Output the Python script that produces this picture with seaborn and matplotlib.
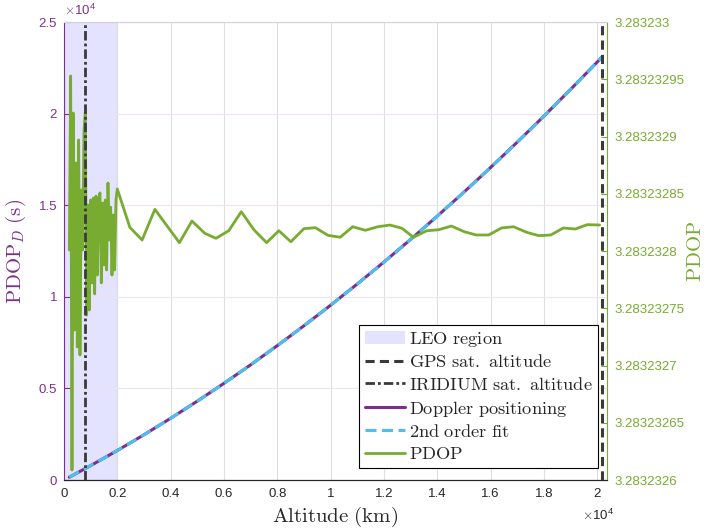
import numpy as np
import pandas as pd
import matplotlib
matplotlib.use("Agg")
import matplotlib.pyplot as plt
import seaborn as sns
from matplotlib.patches import Patch
from matplotlib.lines import Line2D

# ---- data -----------------------------------------------------------------
# PDOP of the constellation versus receiver altitude (km)
pdop_alt = [200, 250, 300, 350, 400, 450, 500, 550, 600, 650, 700, 750, 800,
            850, 900, 950, 1000, 1050, 1100, 1150, 1200, 1250, 1300, 1350,
            1400, 1450, 1500, 1550, 1600, 1650, 1700, 1750, 1800, 1850, 1900,
            1950, 2000,
            2470, 2930, 3410, 3870, 4330, 4800, 5280, 5700, 6180, 6650, 7130,
            7600, 8060, 8510, 9000, 9430, 9900, 10360, 10830, 11300, 11780,
            12230, 12680, 13110, 13610, 14060, 14530, 15010, 15460, 15930,
            16410, 16860, 17360, 17810, 18260, 18730, 19180, 19630, 20090]
pdop_val = [3.2832328009, 3.2832329529, 3.2832326087, 3.2832329205, 3.2832327310,
            3.2832328769, 3.2832327162, 3.2832328970, 3.2832327092, 3.2832328533,
            3.2832328009, 3.2832329057, 3.2832329214, 3.2832327441, 3.2832328402,
            3.2832327485, 3.2832328446, 3.2832327721, 3.2832328463, 3.2832327625,
            3.2832328480, 3.2832327790, 3.2832328446, 3.2832328507, 3.2832327721,
            3.2832328419, 3.2832327878, 3.2832328446, 3.2832327834, 3.2832328594,
            3.2832328096, 3.2832328384, 3.2832327790, 3.2832328315, 3.2832327834,
            3.2832328446, 3.2832328542,
            3.2832328207, 3.2832328096, 3.2832328364, 3.2832328218, 3.2832328073,
            3.2832328262, 3.2832328155, 3.2832328111, 3.2832328177, 3.2832328343,
            3.2832328184, 3.2832328073, 3.2832328177, 3.2832328081, 3.2832328195,
            3.2832328204, 3.2832328137, 3.2832328120, 3.2832328212, 3.2832328181,
            3.2832328212, 3.2832328227, 3.2832328198, 3.2832328120, 3.2832328177,
            3.2832328186, 3.2832328218, 3.2832328169, 3.2832328140, 3.2832328140,
            3.2832328201, 3.2832328212, 3.2832328163, 3.2832328134, 3.2832328140,
            3.2832328201, 3.2832328192, 3.2832328230, 3.2832328227]

# Doppler positioning PDOP_D (s) versus altitude (km)
doppler_alt = [200, 1000, 2000, 3000, 4000, 5000, 6000, 7000, 8000, 9000, 10000,
               11000, 12000, 13000, 14000, 15000, 16000, 17000, 18000, 19000,
               20000, 20200]
doppler_val = [154, 786, 1609, 2470, 3368, 4304, 5276, 6286, 7333, 8418, 9540,
               10699, 11896, 13130, 14401, 15710, 17055, 18439, 19859, 21317,
               22812, 23116]

leo_region = (0, 2000)
gps_altitude = 20200
iridium_altitude = 780

x_ticks = [0, 2000, 4000, 6000, 8000, 10000, 12000, 14000, 16000, 18000, 20000]
x_tick_labels = ['0', '0.2', '0.4', '0.6', '0.8', '1', '1.2', '1.4', '1.6', '1.8', '2']
left_ticks = [0, 5000, 10000, 15000, 20000, 25000]
left_tick_labels = ['0', '0.5', '1', '1.5', '2', '2.5']
right_ticks = [3.2832326, 3.28323265, 3.2832327, 3.28323275, 3.2832328,
               3.28323285, 3.2832329, 3.28323295, 3.283233]
right_tick_labels = ['3.2832326', '3.28323265', '3.2832327', '3.28323275',
                     '3.2832328', '3.28323285', '3.2832329', '3.28323295',
                     '3.283233']

legend_labels = [r'$\mathrm{LEO\ region}$',
                 r'$\mathrm{GPS\ sat.\ altitude}$',
                 r'$\mathrm{IRIDIUM\ sat.\ altitude}$',
                 r'$\mathrm{Doppler\ positioning}$',
                 r'$\mathrm{2nd\ order\ fit}$',
                 r'$\mathrm{PDOP}$']

# ---- style ----------------------------------------------------------------
sns.set_style("white")
plt.rcParams['font.family'] = ['Liberation Sans', 'DejaVu Sans']
plt.rcParams['mathtext.fontset'] = 'cm'

PURPLE = '#7E2F8E'
CYAN = '#4DBEEE'
GREEN = '#77AC30'
DARK = '#3a3a3a'
LEO_FACE = (0.8, 0.8, 1.0, 0.55)

GPS_DASH = (3.0, 1.7)
IRIDIUM_DASH = (3.4, 1.1, 1.0, 1.1)
FIT_DASH = (3.6, 1.8)

fig = plt.figure(figsize=(7.07, 5.29), dpi=100)
ax = fig.add_axes([0.0905, 0.0926, 0.7681, 0.8658])
ax2 = ax.twinx()

# LEO shaded band
ax.axvspan(*leo_region, facecolor=LEO_FACE, edgecolor=(0.55, 0.55, 0.8, 0.45),
           lw=0.8, zorder=0.5)

# grid
ax.set_axisbelow(True)
ax.grid(axis='x', color='#dedede', lw=0.8)
ax.grid(axis='y', color='#efe2f2', lw=0.8)

# Doppler positioning curve and its quadratic fit
dop = pd.DataFrame({'alt': doppler_alt, 'val': doppler_val})
sns.lineplot(data=dop, x='alt', y='val', ax=ax, color=PURPLE, lw=2.2,
             legend=False, zorder=3)
coef = np.polyfit(doppler_alt, doppler_val, 2)
fit_alt = np.linspace(min(doppler_alt), max(doppler_alt), 300)
fit = pd.DataFrame({'alt': fit_alt, 'val': np.polyval(coef, fit_alt)})
fit_line = sns.lineplot(data=fit, x='alt', y='val', ax=ax, color=CYAN, lw=2.2,
                        legend=False, zorder=4)
fit_line.lines[-1].set_dashes(FIT_DASH)

# PDOP on the right axis
pd_df = pd.DataFrame({'alt': pdop_alt, 'val': pdop_val})
sns.lineplot(data=pd_df, x='alt', y='val', ax=ax2, color=GREEN, lw=2.0,
             legend=False, zorder=2)

# satellite altitude markers
ax2.axvline(gps_altitude, color=DARK, lw=2.2, dashes=GPS_DASH, zorder=5)
ax2.axvline(iridium_altitude, color=DARK, lw=2.0, dashes=IRIDIUM_DASH, zorder=5)

# ---- axes -----------------------------------------------------------------
ax.set_xlim(0, 20370)
ax.set_ylim(0, 25000)
ax2.set_ylim(right_ticks[0], right_ticks[-1])

ax.set_xticks(x_ticks, x_tick_labels)
ax.set_yticks(left_ticks, left_tick_labels)
ax2.set_yticks(right_ticks, right_tick_labels)

ax.tick_params(axis='x', direction='in', length=4, width=0.8, colors='#262626',
               labelsize=9.5, pad=6, top=False)
ax.tick_params(axis='y', direction='in', length=4, width=0.8, colors=PURPLE,
               labelsize=9.5, pad=5)
ax2.tick_params(axis='y', direction='in', length=4, width=0.8, colors=GREEN,
                labelsize=9.5, pad=5)

for a in (ax, ax2):
    a.spines['top'].set_color('#d9d2de')
    a.spines['top'].set_linewidth(0.8)
    a.spines['bottom'].set_color('#262626')
    a.spines['bottom'].set_linewidth(0.8)
ax.spines['left'].set_color(PURPLE)
ax.spines['right'].set_visible(False)
ax2.spines['left'].set_visible(False)
ax2.spines['right'].set_color(GREEN)
ax.spines['left'].set_linewidth(0.8)
ax2.spines['right'].set_linewidth(0.8)

ax.set_xlabel(r'$\mathrm{Altitude\ (km)}$', fontsize=15, color='#262626')
ax.set_ylabel(r'$\mathrm{PDOP}_D\ \mathrm{(s)}$', fontsize=15, color=PURPLE)
ax2.set_ylabel(r'$\mathrm{PDOP}$', fontsize=15, color=GREEN)
ax.xaxis.set_label_coords(0.5, -0.054)
ax.yaxis.set_label_coords(-0.066, 0.5)
ax2.yaxis.set_label_coords(1.145, 0.5)

# exponent annotations
ax.text(0.0, 1.009, r'$\times\mathregular{10^{4}}$', transform=ax.transAxes,
        ha='left', va='bottom', color=PURPLE, fontsize=9.5)
ax.text(1.013, -0.061, r'$\times\mathregular{10^{4}}$', transform=ax.transAxes,
        ha='right', va='top', color='#262626', fontsize=9.5)

# ---- legend ---------------------------------------------------------------
handles = [Patch(facecolor=LEO_FACE, edgecolor='none'),
           Line2D([], [], color=DARK, lw=2.2, dashes=GPS_DASH),
           Line2D([], [], color=DARK, lw=2.0, dashes=IRIDIUM_DASH),
           Line2D([], [], color=PURPLE, lw=2.2),
           Line2D([], [], color=CYAN, lw=2.2, dashes=FIT_DASH),
           Line2D([], [], color=GREEN, lw=2.0)]
leg = ax2.legend(handles, legend_labels, loc='lower right',
                 bbox_to_anchor=(0.984, 0.026), fontsize=13.2, frameon=True,
                 fancybox=False, framealpha=1, edgecolor='black',
                 borderpad=0.28, labelspacing=0.28, handlelength=2.2,
                 handletextpad=0.25, borderaxespad=0)
leg.get_frame().set_linewidth(0.8)

fig.savefig('out.png', dpi=100)
